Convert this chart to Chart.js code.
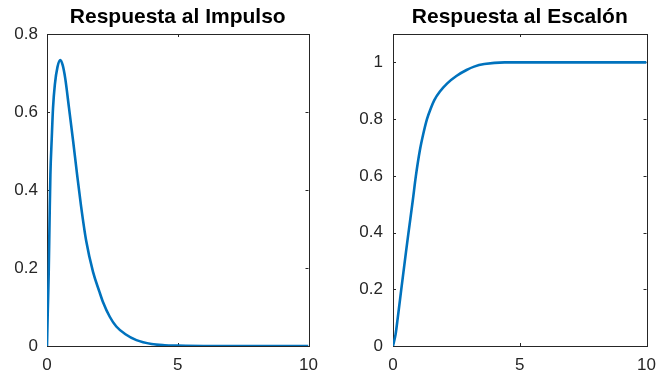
<!DOCTYPE html>
<html>
<head>
  <meta charset="UTF-8">
  <script src="https://cdn.jsdelivr.net/npm/chart.js@4.4.0/dist/chart.umd.min.js"></script>
  <style>
    body { margin: 0; background: #fff; }
    .wrap { position: relative; width: 665px; height: 377px; }
    .box { position: absolute; top: 0; height: 377px; }
  </style>
</head>
<body>
  <div class="wrap">
    <div class="box" style="left:0;width:332px"><canvas id="impChart"></canvas></div>
    <div class="box" style="left:332px;width:333px"><canvas id="stepChart"></canvas></div>
  </div>
  <script>
    // impulse response
    const impT = [0, 0.03, 0.065, 0.1, 0.13, 0.18, 0.23, 0.3, 0.4, 0.51, 0.6, 0.7, 0.84, 1.0, 1.15, 1.3, 1.5, 1.76, 2.0, 2.14, 2.4, 2.65, 3.0, 3.42, 4.0, 4.5, 5, 6, 8, 10];
    const impY = [0, 0.09, 0.185, 0.33, 0.44, 0.53, 0.61, 0.67, 0.715, 0.733, 0.72, 0.685, 0.611, 0.525, 0.44, 0.36, 0.269, 0.19, 0.14, 0.113, 0.075, 0.05, 0.03, 0.015, 0.005, 0.002, 0.001, 0, 0, 0];

    // step response
    const stepT = [0, 0.1, 0.19, 0.32, 0.52, 0.61, 0.78, 0.9, 1.06, 1.2, 1.34, 1.5, 1.63, 1.85, 2.14, 2.5, 2.9, 3.2, 3.6, 4.4, 5, 6, 8, 10];
    const stepY = [0, 0.04, 0.101, 0.195, 0.337, 0.399, 0.513, 0.598, 0.69, 0.75, 0.8, 0.84, 0.867, 0.897, 0.926, 0.952, 0.973, 0.985, 0.994, 1, 1, 1, 1, 1];

    const xTicks = [0, 5, 10];
    const impYTicks = [0, 0.2, 0.4, 0.6, 0.8];
    const stepYTicks = [0, 0.2, 0.4, 0.6, 0.8, 1];

    const FONT = '"Liberation Sans", Arial, Helvetica, sans-serif';
    const AXIS = '#262626';

    // matlab style box with inward ticks
    const boxPlugin = {
      id: 'box',
      beforeDatasetsDraw(chart) {
        const { ctx, chartArea: a, scales } = chart;
        const len = 3;
        ctx.save();
        ctx.strokeStyle = AXIS;
        ctx.lineWidth = 1;
        ctx.strokeRect(Math.round(a.left) + 0.5, Math.round(a.top) + 0.5,
          Math.round(a.right - a.left), Math.round(a.bottom - a.top));
        ctx.beginPath();
        scales.x.ticks.forEach(t => {
          const px = Math.round(scales.x.getPixelForValue(t.value)) + 0.5;
          ctx.moveTo(px, a.bottom); ctx.lineTo(px, a.bottom - len);
          ctx.moveTo(px, a.top); ctx.lineTo(px, a.top + len);
        });
        scales.y.ticks.forEach(t => {
          const py = Math.round(scales.y.getPixelForValue(t.value)) + 0.5;
          ctx.moveTo(a.left, py); ctx.lineTo(a.left + len, py);
          ctx.moveTo(a.right, py); ctx.lineTo(a.right - len, py);
        });
        ctx.stroke();
        ctx.restore();
      }
    };

    function makeChart(id, title, ts, ys, yMax, yTicks, yWidth, rightPad) {
      const pts = ts.map((t, i) => ({ x: t, y: ys[i] }));
      return new Chart(document.getElementById(id), {
        type: 'line',
        data: {
          datasets: [{
            data: pts,
            borderColor: '#0072BD',
            borderWidth: 2.6,
            pointRadius: 0,
            cubicInterpolationMode: 'monotone',
            fill: false
          }]
        },
        options: {
          responsive: false,
          animation: false,
          layout: { padding: { left: 0, right: rightPad, top: 0, bottom: 0 } },
          plugins: {
            legend: { display: false },
            tooltip: { enabled: false },
            title: {
              display: true,
              text: title,
              fullSize: false,
              color: '#000',
              font: { family: FONT, size: 21, weight: 'bold', lineHeight: 1.2 },
              padding: { top: 4.5, bottom: 4.3 }
            }
          },
          scales: {
            x: {
              type: 'linear',
              min: 0, max: 10,
              grid: { display: false, drawTicks: false },
              border: { display: false },
              afterBuildTicks: s => { s.ticks = xTicks.map(v => ({ value: v })); },
              afterFit: s => { s.height = 31; },
              ticks: { color: AXIS, padding: 9, maxRotation: 0, font: { family: FONT, size: 17 },
                callback: v => String(v) }
            },
            y: {
              type: 'linear',
              min: 0, max: yMax,
              grid: { display: false, drawTicks: false },
              border: { display: false },
              afterBuildTicks: s => { s.ticks = yTicks.map(v => ({ value: v })); },
              afterFit: s => { s.width = yWidth; },
              ticks: { color: AXIS, padding: yWidth > 50 ? 10 : 9, font: { family: FONT, size: 17 },
                callback: v => String(v) }
            }
          }
        },
        plugins: [boxPlugin]
      });
    }

    document.getElementById('impChart').width = 332;
    document.getElementById('impChart').height = 377;
    document.getElementById('stepChart').width = 333;
    document.getElementById('stepChart').height = 377;

    makeChart('impChart', 'Respuesta al Impulso', impT, impY, 0.8, impYTicks, 47, 23.5);
    makeChart('stepChart', 'Respuesta al Escalón', stepT, stepY, 1.1, stepYTicks, 61, 10);
  </script>
</body>
</html>
